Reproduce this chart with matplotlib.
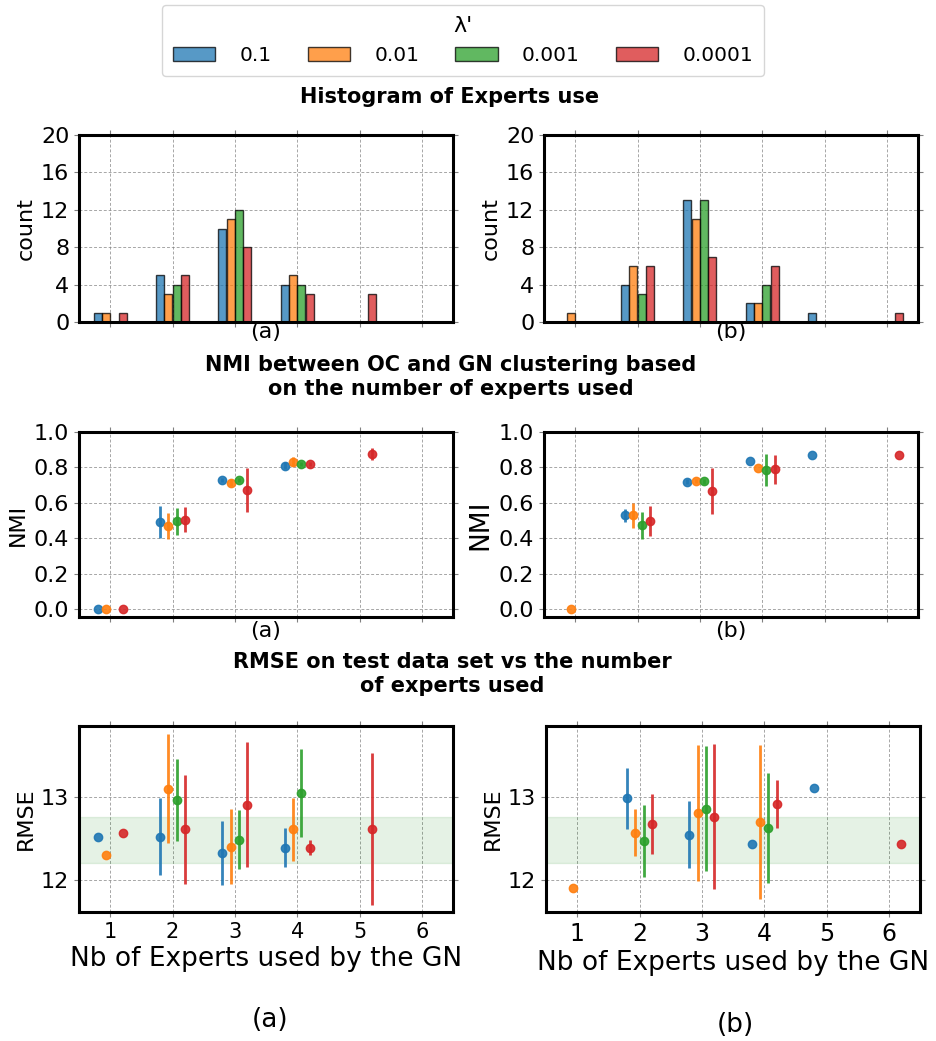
import matplotlib
matplotlib.use("Agg")
import matplotlib.pyplot as plt
from matplotlib.patches import Patch

# Series / categories
lambdas = ['0.1', '0.01', '0.001', '0.0001']
colors = ['tab:blue', 'tab:orange', 'tab:green', 'tab:red']
n_experts = [1, 2, 3, 4, 5, 6]

# Histogram counts (one list per lambda, for 1..6 experts)
hist_a = [[1, 5, 10, 4, 0, 0], [1, 3, 11, 5, 0, 0], [0, 4, 12, 4, 0, 0], [1, 5, 8, 3, 3, 0]]
hist_b = [[0, 4, 13, 2, 1, 0], [1, 6, 11, 2, 0, 0], [0, 3, 13, 4, 0, 0], [0, 6, 7, 6, 0, 1]]

# NMI mean / std per lambda
nmi_a_x = [[1, 2, 3, 4], [1, 2, 3, 4], [2, 3, 4], [1, 2, 3, 4, 5]]
nmi_a_mean = [[0.0, 0.49, 0.728, 0.809], [0.0, 0.47, 0.713, 0.831],
              [0.495, 0.728, 0.818], [0.0, 0.505, 0.672, 0.818, 0.878]]
nmi_a_err = [[0, 0.09, 0.01, 0.02], [0, 0.075, 0.02, 0.025],
             [0.078, 0.01, 0.01], [0, 0.072, 0.125, 0.012, 0.034]]

nmi_b_x = [[2, 3, 4, 5], [1, 2, 3, 4], [2, 3, 4], [2, 3, 4, 6]]
nmi_b_mean = [[0.529, 0.72, 0.837, 0.871], [0.0, 0.529, 0.722, 0.794],
              [0.473, 0.722, 0.785], [0.497, 0.665, 0.789, 0.871]]
nmi_b_err = [[0.035, 0.015, 0, 0], [0, 0.07, 0.012, 0],
             [0.077, 0.015, 0.092], [0.085, 0.13, 0.082, 0]]

# RMSE mean / std per lambda
rmse_a_x = [[1, 2, 3, 4], [1, 2, 3, 4], [2, 3, 4], [1, 2, 3, 4, 5]]
rmse_a_mean = [[12.528, 12.528, 12.328, 12.396], [12.308, 13.104, 12.408, 12.616],
               [12.964, 12.492, 13.048], [12.568, 12.616, 12.912, 12.392, 12.624]]
rmse_a_err = [[0, 0.46, 0.388, 0.24], [0, 0.654, 0.45, 0.378],
              [0.494, 0.354, 0.53], [0, 0.658, 0.75, 0.09, 0.916]]

rmse_b_x = [[2, 3, 4, 5], [1, 2, 3, 4], [2, 3, 4], [2, 3, 4, 6]]
rmse_b_mean = [[12.988, 12.552, 12.44, 13.112], [11.904, 12.576, 12.812, 12.708],
               [12.48, 12.864, 12.632], [12.68, 12.768, 12.92, 12.44]]
rmse_b_err = [[0.37, 0.4, 0, 0], [0, 0.284, 0.816, 0.926],
              [0.434, 0.754, 0.664], [0.36, 0.876, 0.294, 0]]

rmse_band = [12.21, 12.77]

offsets = [-0.2, -0.067, 0.067, 0.2]
W, H = 936, 1041


def rect(l, t, r, b):
    return [l / W, 1 - b / H, (r - l) / W, (b - t) / H]


def style(ax):
    ax.set_xlim(0.5, 6.5)
    ax.set_xticks(n_experts)
    ax.grid(True, linestyle=(0, (3, 2)), color='grey', alpha=0.7, linewidth=0.7)
    ax.set_axisbelow(True)
    for s in ax.spines.values():
        s.set_linewidth(2.2)
    ax.tick_params(labelsize=16, top=True, right=True, color='grey')


fig = plt.figure(figsize=(W / 100, H / 100), dpi=100)

# Histograms
for hist, pos, lab in [(hist_a, (79, 135, 453, 322), '(a)'), (hist_b, (544, 135, 918, 322), '(b)')]:
    ax = fig.add_axes(rect(*pos))
    for i in range(4):
        xs = [x + offsets[i] for x in n_experts]
        ax.bar(xs, hist[i], width=0.13, color=colors[i], alpha=0.75,
               edgecolor='black', linewidth=1)
    style(ax)
    ax.set_ylim(0, 20)
    ax.set_yticks([0, 4, 8, 12, 16, 20])
    ax.set_xticklabels([])
    ax.set_ylabel('count', fontsize=16)
    ax.set_xlabel(lab, fontsize=16, labelpad=-7)

# NMI
for xs_all, means, errs, pos, lab, ylfs in [
        (nmi_a_x, nmi_a_mean, nmi_a_err, (79, 432, 453, 617), '(a)', 16),
        (nmi_b_x, nmi_b_mean, nmi_b_err, (544, 432, 918, 617), '(b)', 19)]:
    ax = fig.add_axes(rect(*pos))
    for i in range(4):
        xs = [x + offsets[i] for x in xs_all[i]]
        ax.errorbar(xs, means[i], yerr=errs[i], fmt='o', color=colors[i],
                    markersize=6, elinewidth=2, capsize=0, alpha=0.9)
    style(ax)
    ax.set_ylim(-0.045, 1.0)
    ax.set_yticks([0.0, 0.2, 0.4, 0.6, 0.8, 1.0])
    ax.set_xticklabels([])
    ax.set_ylabel('NMI', fontsize=ylfs)
    ax.set_xlabel(lab, fontsize=16, labelpad=-4)

# RMSE
for xs_all, means, errs, pos, xfs in [
        (rmse_a_x, rmse_a_mean, rmse_a_err, (79, 726, 453, 912), 15),
        (rmse_b_x, rmse_b_mean, rmse_b_err, (546, 726, 920, 912), 17)]:
    ax = fig.add_axes(rect(*pos))
    ax.axhspan(rmse_band[0], rmse_band[1], color='green', alpha=0.1)
    for i in range(4):
        xs = [x + offsets[i] for x in xs_all[i]]
        ax.errorbar(xs, means[i], yerr=errs[i], fmt='o', color=colors[i],
                    markersize=6, elinewidth=2, capsize=0, alpha=0.9)
    style(ax)
    ax.set_ylim(11.62, 13.86)
    ax.set_yticks([12, 13])
    ax.tick_params(axis='x', labelsize=xfs)
    ax.set_ylabel('RMSE', fontsize=16)
    ax.set_xlabel('Nb of Experts used by the GN', fontsize=19, labelpad=3)

# Section titles
fig.text(450 / W, 1 - 97 / H, 'Histogram of Experts use', ha='center', va='center',
         fontsize=15, fontweight='bold')
fig.text(451 / W, 1 - 377 / H, 'NMI between OC and GN clustering based\non the number of experts used',
         ha='center', va='center', fontsize=15, fontweight='bold', linespacing=1.25)
fig.text(452 / W, 1 - 674 / H, 'RMSE on test data set vs the number\nof experts used',
         ha='center', va='center', fontsize=15, fontweight='bold', linespacing=1.25)

fig.text(270 / W, 1 - 1020 / H, '(a)', ha='center', va='center', fontsize=19)
fig.text(735 / W, 1 - 1025 / H, '(b)', ha='center', va='center', fontsize=19)

# Legend
handles = [Patch(facecolor=c, alpha=0.75, edgecolor='black') for c in colors]
fig.legend(handles, lambdas, title="λ'", loc='upper center', bbox_to_anchor=(463 / W, 1 - 5 / H),
           ncol=4, fontsize=14.5, title_fontsize=16, handlelength=2.1, handletextpad=1.2,
           columnspacing=1.8, borderaxespad=0, borderpad=0.55)

fig.savefig('out.png', dpi=100)
